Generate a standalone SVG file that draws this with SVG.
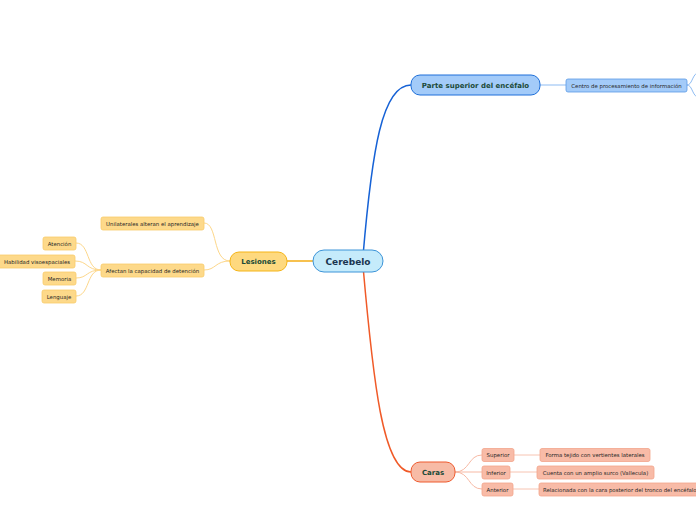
<svg xmlns="http://www.w3.org/2000/svg" width="696" height="520" viewBox="0 0 696 520">
<style>
text{font-family:"DejaVu Sans","Liberation Sans",sans-serif;text-anchor:middle;dominant-baseline:central}
.main{font-size:9px;font-weight:bold;fill:#1a3550}
.br{font-size:7px;font-weight:bold;fill:#1b4a38}
.sm{font-size:5.4px;fill:#262626}
.blue1{fill:#a3cbf9;stroke:#1e6fd9;stroke-width:1}
.blue2{fill:#a3cbf9;stroke:#5c9ae6;stroke-width:0.8}
.red1{fill:#f7bba6;stroke:#ee5a2e;stroke-width:1}
.red2{fill:#f8bba7;stroke:#f3a48c;stroke-width:0.8}
.yel1{fill:#fed97f;stroke:#f5b416;stroke-width:1}
.yel2{fill:#fdd98a;stroke:#f9cc6a;stroke-width:0.8}
.c{fill:none}
</style>
<g id="connectors">
<path class="c" d="M363,256 C372,150 382,85 411,85" stroke="#1662d6" stroke-width="1.5"/>
<path class="c" d="M540,85 L566,85" stroke="#8dbbf2" stroke-width="1"/>
<path class="c" d="M687,85 C692,85 692,76 697,73 M687,85 C692,85 692,94 697,97" stroke="#8dbbf2" stroke-width="1"/>
<path class="c" d="M363,266 C373,380 383,472 411,472" stroke="#f05a28" stroke-width="1.5"/>
<path class="c" d="M455,472 C470,472 468,455 482,455 M455,472 L482,472 M455,472 C470,472 468,489 482,489" stroke="#f7b9a4" stroke-width="1"/>
<path class="c" d="M514,455 L540,455 M510,472 L537,472 M513,489 L539,489" stroke="#f7c4b2" stroke-width="1"/>
<path class="c" d="M313,261 L287,261" stroke="#f5ad14" stroke-width="1.5"/>
<path class="c" d="M230,261 C212,261 218,223 204,223 M230,261 C215,261 216,270 204,270" stroke="#fdd78a" stroke-width="1"/>
<path class="c" d="M101,270 C86,270 90,243 76,243 M101,270 C86,270 88,261 75,261 M101,270 C86,270 88,278 76,278 M101,270 C86,270 90,296 76,296" stroke="#fdd78a" stroke-width="1"/>
</g>
<g id="cerebelo"><rect x="313" y="250" width="70" height="22" rx="11" fill="#c5ebfb" stroke="#3c94d8" stroke-width="1"/><text class="main" x="348" y="261.5">Cerebelo</text></g>
<g id="parte"><rect class="blue1" x="411" y="75" width="129" height="20" rx="9"/><text class="br" x="475.5" y="85.5">Parte superior del encéfalo</text></g>
<g id="centro"><rect class="blue2" x="566" y="79" width="121" height="13" rx="2"/><text class="sm" x="626.5" y="85.5">Centro de procesamiento de información</text></g>
<g id="caras"><rect class="red1" x="411" y="462" width="44" height="20" rx="9"/><text class="br" x="433" y="472.5">Caras</text></g>
<g id="superior"><rect class="red2" x="482" y="448.5" width="32" height="13" rx="2"/><text class="sm" x="498" y="455">Superior</text></g>
<g id="inferior"><rect class="red2" x="482" y="466" width="28" height="13" rx="2"/><text class="sm" x="496" y="472.5">Inferior</text></g>
<g id="anterior"><rect class="red2" x="482" y="483" width="31" height="13" rx="2"/><text class="sm" x="497.5" y="489.5">Anterior</text></g>
<g id="forma"><rect class="red2" x="540" y="448.5" width="110" height="13" rx="2"/><text class="sm" x="595" y="455">Forma tejido con vertientes laterales</text></g>
<g id="cuenta"><rect class="red2" x="537" y="466" width="117" height="13" rx="2"/><text class="sm" x="595.5" y="472.5">Cuenta con un amplio surco (Vallecula)</text></g>
<g id="relacionada"><rect class="red2" x="539" y="483" width="175" height="13" rx="2"/><text class="sm" x="543" y="489.5" style="text-anchor:start">Relacionada con la cara posterior del tronco del encéfalo</text></g>
<g id="lesiones"><rect class="yel1" x="230" y="252" width="57" height="19" rx="9"/><text class="br" x="258.5" y="261.5">Lesiones</text></g>
<g id="unilaterales"><rect class="yel2" x="101" y="217" width="103" height="13" rx="2"/><text class="sm" x="152.5" y="223.5">Unilaterales alteran el aprendizaje</text></g>
<g id="afectan"><rect class="yel2" x="101" y="264" width="103" height="13" rx="2"/><text class="sm" x="152.5" y="270.5">Afectan la capacidad de detención</text></g>
<g id="atencion"><rect class="yel2" x="43" y="237" width="33" height="13" rx="2"/><text class="sm" x="59.5" y="243.5">Atención</text></g>
<g id="habilidad"><rect class="yel2" x="-2" y="255" width="77" height="13" rx="2"/><text class="sm" x="37" y="261.5">Habilidad visoespaciales</text></g>
<g id="memoria"><rect class="yel2" x="43" y="272" width="33" height="13" rx="2"/><text class="sm" x="59.5" y="278.5">Memoria</text></g>
<g id="lenguaje"><rect class="yel2" x="42" y="290" width="34" height="13" rx="2"/><text class="sm" x="59" y="296.5">Lenguaje</text></g>
</svg>
